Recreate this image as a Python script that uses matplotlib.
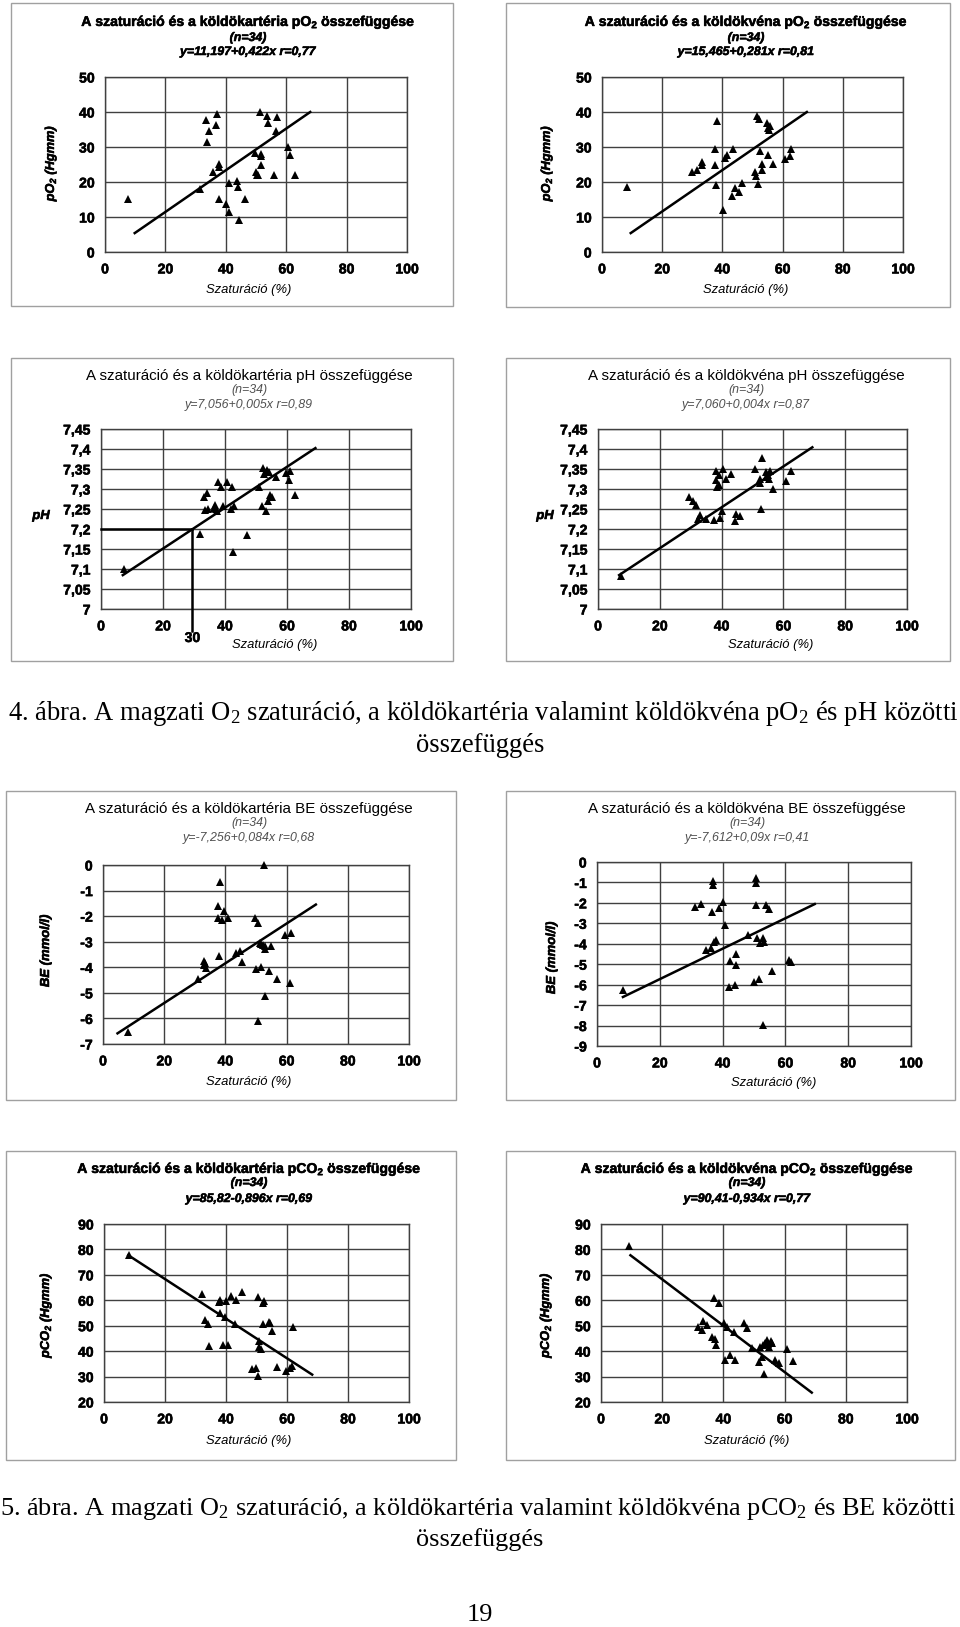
import matplotlib
matplotlib.use('Agg')
import matplotlib.pyplot as plt
import matplotlib.font_manager as fm
import matplotlib.patheffects as pe
from matplotlib.patches import Rectangle

W, H = 960, 1627
SANS = ['Liberation Sans', 'DejaVu Sans']
SERIF = ['Liberation Serif', 'DejaVu Serif']
plt.rcParams['font.family'] = SANS


def has_bold(name):
    for f in fm.fontManager.ttflist:
        if f.name == name:
            w = f.weight
            if isinstance(w, str):
                w = fm.weight_dict.get(w, 400)
            if w >= 600:
                return True
    return False


# a szkennelt eredeti félkövér szövegei vastagabbak: enyhe körvonal
stroke_w = 0.4 if has_bold('Liberation Sans') else 0.9
BOLD_FX = [pe.withStroke(linewidth=stroke_w, foreground='black')]

# --- adatok (leolvasva az ábráról) ---
x_ticks = [0, 20, 40, 60, 80, 100]
x_ticklabels = ['0', '20', '40', '60', '80', '100']

# köldökartéria pO2
art_po2_x = [7.5, 31.3, 33.4, 33.7, 34.4, 35.9, 36.6, 37.1, 37.6, 37.6, 37.9, 40.0, 41.0, 41.0, 43.6, 44.2, 44.3,
             46.2, 49.6, 50.1, 50.4, 50.8, 51.2, 51.5, 51.7, 51.7, 53.7, 54.1, 56.1, 56.5, 57.0, 60.7, 61.3, 62.8]
art_po2_y = [15.1, 18.1, 37.6, 31.4, 34.7, 22.9, 36.2, 39.5, 25.1, 24.3, 15.2, 13.7, 19.8, 11.4, 20.4, 18.5, 9.2,
             15.1, 28.3, 23.0, 22.1, 22.1, 39.9, 28.1, 27.3, 24.9, 38.9, 36.9, 22.1, 34.5, 38.5, 29.9, 27.6, 22.1]
art_po2_fit_x = [9.5, 68.3]
art_po2_fit_y = [5.2, 40.2]

# köldökvéna pO2
ven_po2_x = [8.4, 29.9, 31.7, 33.1, 33.2, 37.7, 37.7, 37.8, 38.3, 40.1, 40.8, 41.6, 43.1, 43.5, 44.1, 45.5, 46.4,
             50.9, 51.1, 51.5, 51.8, 52.2, 52.4, 53.3, 53.3, 54.9, 55.1, 55.2, 55.7, 56.9, 60.7, 62.3, 62.8, 55.4]
ven_po2_y = [18.5, 22.8, 23.5, 25.0, 25.7, 29.5, 24.8, 19.2, 37.5, 11.9, 27.0, 27.6, 15.9, 29.5, 18.3, 17.1, 19.6,
             22.9, 21.6, 39.0, 19.5, 38.1, 29.0, 23.5, 25.2, 36.9, 27.6, 35.4, 36.1, 25.1, 26.6, 27.3, 29.5, 35.0]
ven_po2_fit_x = [9.2, 68.4]
ven_po2_fit_y = [5.2, 40.2]

po2_ticks = [0, 10, 20, 30, 40, 50]
po2_ticklabels = ['0', '10', '20', '30', '40', '50']

# köldökartéria pH
art_ph_x = [7.3, 31.8, 33.2, 33.4, 34.3, 34.6, 36.9, 37.2, 37.5, 37.9, 38.8, 39.5, 40.7, 41.8, 42.1, 42.5, 42.9,
            47.1, 51.0, 52.0, 52.3, 52.6, 53.1, 53.4, 53.9, 54.2, 54.4, 55.3, 56.6, 59.6, 60.7, 60.9, 62.6, 36.6]
art_ph_y = [7.100, 7.188, 7.280, 7.248, 7.290, 7.250, 7.259, 7.250, 7.244, 7.317, 7.306, 7.258, 7.317, 7.250,
            7.304, 7.142, 7.258, 7.184, 7.304, 7.258, 7.352, 7.337, 7.245, 7.348, 7.269, 7.342, 7.285, 7.281,
            7.329, 7.339, 7.323, 7.345, 7.285, 7.253]
art_ph_fit_x = [6.7, 69.5]
art_ph_fit_y = [7.083, 7.404]
ph_cut_x = 29.5
ph_cut_y = 7.2
ph_cut_label = '30'

# köldökvéna pH
ven_ph_x = [7.6, 29.3, 30.8, 31.6, 32.5, 33.0, 35.1, 37.7, 38.2, 38.2, 38.4, 39.0, 39.2, 39.5, 40.1, 40.5, 41.5,
            43.2, 44.2, 44.7, 46.1, 50.8, 52.3, 52.5, 52.9, 53.2, 54.3, 54.9, 55.2, 55.7, 56.7, 60.7, 62.5, 54.5]
ven_ph_y = [7.083, 7.281, 7.269, 7.259, 7.225, 7.235, 7.225, 7.223, 7.345, 7.323, 7.304, 7.310, 7.334, 7.227,
            7.246, 7.350, 7.324, 7.337, 7.221, 7.237, 7.233, 7.350, 7.325, 7.316, 7.250, 7.377, 7.329, 7.335,
            7.325, 7.345, 7.300, 7.321, 7.345, 7.342]
ven_ph_fit_x = [6.5, 69.7]
ven_ph_fit_y = [7.083, 7.406]

ph_ticks = [7.0, 7.05, 7.1, 7.15, 7.2, 7.25, 7.3, 7.35, 7.4, 7.45]
ph_ticklabels = ['7', '7,05', '7,1', '7,15', '7,2', '7,25', '7,3', '7,35', '7,4', '7,45']

# köldökartéria BE
art_be_x = [8.2, 30.9, 33.0, 33.1, 33.8, 37.6, 37.7, 37.9, 38.1, 39.0, 39.5, 40.8, 43.4, 44.7, 45.3, 49.6, 50.1,
            50.7, 50.7, 51.2, 51.6, 52.3, 52.5, 52.8, 52.9, 53.1, 54.1, 54.8, 57.0, 59.6, 61.0, 61.5, 51.7, 33.2]
art_be_y = [-6.52, -4.45, -3.77, -3.93, -4.03, -2.07, -1.61, -3.57, -0.67, -2.16, -1.78, -2.07, -3.44, -3.38,
            -3.80, -2.07, -4.07, -2.26, -6.09, -3.05, -3.97, -3.12, 0.0, -5.14, -3.29, -3.18, -4.16, -3.15,
            -4.45, -2.75, -4.62, -2.66, -3.10, -3.83]
art_be_fit_x = [4.4, 69.9]
art_be_fit_y = [-6.61, -1.52]
art_be_ticks = [0, -1, -2, -3, -4, -5, -6, -7]
art_be_ticklabels = ['0', '-1', '-2', '-3', '-4', '-5', '-6', '-7']

# köldökvéna BE
ven_be_x = [8.2, 31.2, 33.0, 34.6, 36.4, 36.6, 37.1, 37.1, 37.2, 37.9, 38.7, 40.0, 40.9, 42.1, 42.4, 43.8, 44.2,
            44.3, 48.2, 50.1, 50.5, 50.6, 50.6, 50.8, 51.7, 52.0, 52.8, 52.8, 53.2, 53.8, 54.9, 55.7, 61.3, 61.9]
ven_be_y = [-6.28, -2.21, -2.05, -4.32, -4.21, -2.44, -0.93, -1.13, -3.91, -3.83, -2.24, -1.96, -3.06, -6.12,
            -4.83, -6.00, -4.50, -5.02, -3.55, -5.89, -0.77, -1.01, -2.08, -3.72, -5.71, -3.96, -3.72, -7.97,
            -3.93, -2.08, -2.29, -5.32, -4.78, -4.89]
ven_be_fit_x = [7.9, 69.7]
ven_be_fit_y = [-6.63, -2.03]
ven_be_ticks = [0, -1, -2, -3, -4, -5, -6, -7, -8, -9]
ven_be_ticklabels = ['0', '-1', '-2', '-3', '-4', '-5', '-6', '-7', '-8', '-9']

# köldökartéria pCO2
art_pco2_x = [8.3, 32.2, 33.0, 34.0, 34.4, 37.8, 38.0, 38.0, 39.1, 39.7, 40.0, 40.7, 41.8, 42.9, 43.2, 45.1, 48.4,
              49.7, 50.5, 50.5, 50.9, 50.9, 51.4, 52.0, 52.5, 52.2, 54.1, 54.4, 55.1, 56.6, 59.6, 60.9, 61.5, 62.0]
art_pco2_y = [78.0, 62.3, 52.2, 50.5, 42.2, 59.4, 60.0, 55.1, 42.6, 53.4, 59.9, 42.6, 61.6, 50.5, 60.0, 63.3, 32.8,
              33.2, 61.2, 30.1, 43.9, 41.6, 40.9, 59.0, 59.9, 50.5, 51.5, 50.9, 48.1, 33.7, 32.2, 33.5, 34.1, 49.4]
art_pco2_fit_x = [7.6, 68.6]
art_pco2_fit_y = [78.0, 30.5]

# köldökvéna pCO2
ven_pco2_x = [9.0, 31.6, 32.9, 33.2, 34.5, 36.4, 36.8, 37.4, 37.6, 38.5, 40.3, 40.6, 41.1, 42.3, 43.4, 43.9, 46.6,
              47.7, 49.3, 51.7, 52.1, 52.8, 53.2, 53.6, 54.2, 55.0, 55.6, 55.9, 57.0, 58.3, 60.8, 62.9, 52.6, 54.7]
ven_pco2_y = [81.2, 49.6, 48.5, 51.8, 50.2, 45.6, 61.0, 44.6, 42.4, 59.0, 50.9, 36.7, 49.6, 38.4, 47.5, 36.5, 50.9,
              49.2, 41.1, 35.8, 41.6, 42.4, 31.1, 43.3, 44.2, 41.6, 43.9, 43.3, 36.7, 35.4, 40.7, 36.1, 37.7, 42.7]
ven_pco2_fit_x = [9.3, 69.2]
ven_pco2_fit_y = [78.0, 23.4]

pco2_ticks = [20, 30, 40, 50, 60, 70, 80, 90]
pco2_ticklabels = ['20', '30', '40', '50', '60', '70', '80', '90']

SUB2 = r'$\mathregular{_2}$'

panels = [
    dict(ax=(105, 77, 407, 252), frame=(11, 3, 453, 306), tx=248, ty=(22, 38, 52),
         x=art_po2_x, y=art_po2_y, fx=art_po2_fit_x, fy=art_po2_fit_y,
         yt=po2_ticks, ytl=po2_ticklabels,
         title='A szaturáció és a köldökartéria pO' + SUB2 + ' összefüggése', eq='y=11,197+0,422x r=0,77',
         ylab='pO' + SUB2 + ' (Hgmm)', ylpos=(51, 163), rot=90, xlpos=(249, 290), strong=True),
    dict(ax=(602, 77, 903, 252), frame=(506, 3, 950, 307), tx=746, ty=(22, 38, 52),
         x=ven_po2_x, y=ven_po2_y, fx=ven_po2_fit_x, fy=ven_po2_fit_y,
         yt=po2_ticks, ytl=po2_ticklabels,
         title='A szaturáció és a köldökvéna pO' + SUB2 + ' összefüggése', eq='y=15,465+0,281x r=0,81',
         ylab='pO' + SUB2 + ' (Hgmm)', ylpos=(547, 163), rot=90, xlpos=(746, 290), strong=True),
    dict(ax=(101, 429, 411, 609), frame=(11, 358, 453, 661), tx=249, ty=(376, 390, 405),
         x=art_ph_x, y=art_ph_y, fx=art_ph_fit_x, fy=art_ph_fit_y,
         yt=ph_ticks, ytl=ph_ticklabels,
         title='A szaturáció és a köldökartéria pH összefüggése', eq='y=7,056+0,005x r=0,89',
         ylab='pH', ylpos=(41, 516), rot=0, xlpos=(275, 645), strong=False, cut=True),
    dict(ax=(598, 429, 907, 609), frame=(506, 358, 950, 661), tx=746, ty=(376, 390, 405),
         x=ven_ph_x, y=ven_ph_y, fx=ven_ph_fit_x, fy=ven_ph_fit_y,
         yt=ph_ticks, ytl=ph_ticklabels,
         title='A szaturáció és a köldökvéna pH összefüggése', eq='y=7,060+0,004x r=0,87',
         ylab='pH', ylpos=(545, 516), rot=0, xlpos=(771, 645), strong=False),
    dict(ax=(103, 865, 409, 1044), frame=(6, 791, 456, 1100), tx=249, ty=(809, 823, 838),
         x=art_be_x, y=art_be_y, fx=art_be_fit_x, fy=art_be_fit_y,
         yt=art_be_ticks, ytl=art_be_ticklabels,
         title='A szaturáció és a köldökartéria BE összefüggése', eq='y=-7,256+0,084x r=0,68',
         ylab='BE (mmol/l)', ylpos=(46, 951), rot=90, xlpos=(249, 1082), strong=False),
    dict(ax=(597, 862, 911, 1046), frame=(506, 791, 955, 1100), tx=747, ty=(809, 823, 838),
         x=ven_be_x, y=ven_be_y, fx=ven_be_fit_x, fy=ven_be_fit_y,
         yt=ven_be_ticks, ytl=ven_be_ticklabels,
         title='A szaturáció és a köldökvéna BE összefüggése', eq='y=-7,612+0,09x r=0,41',
         ylab='BE (mmol/l)', ylpos=(552, 958), rot=90, xlpos=(774, 1083), strong=False),
    dict(ax=(104, 1224, 409, 1402), frame=(6, 1151, 456, 1460), tx=249, ty=(1169, 1183, 1199),
         x=art_pco2_x, y=art_pco2_y, fx=art_pco2_fit_x, fy=art_pco2_fit_y,
         yt=pco2_ticks, ytl=pco2_ticklabels,
         title='A szaturáció és a köldökartéria pCO' + SUB2 + ' összefüggése', eq='y=85,82-0,896x r=0,69',
         ylab='pCO' + SUB2 + ' (Hgmm)', ylpos=(46, 1315), rot=90, xlpos=(249, 1441), strong=True),
    dict(ax=(601, 1224, 907, 1402), frame=(506, 1151, 955, 1460), tx=747, ty=(1169, 1183, 1199),
         x=ven_pco2_x, y=ven_pco2_y, fx=ven_pco2_fit_x, fy=ven_pco2_fit_y,
         yt=pco2_ticks, ytl=pco2_ticklabels,
         title='A szaturáció és a köldökvéna pCO' + SUB2 + ' összefüggése', eq='y=90,41-0,934x r=0,77',
         ylab='pCO' + SUB2 + ' (Hgmm)', ylpos=(546, 1315), rot=90, xlpos=(747, 1441), strong=True),
]

fig = plt.figure(figsize=(W / 100, H / 100), dpi=100)
fig.patch.set_facecolor('white')


def ptext(x, y, s, **kw):
    # szöveg pixel koordinátákban (bal felső sarokból)
    return fig.text(x / W, 1 - y / H, s, **kw)


GRID = '#404040'
TICK_FS = 10.1
BOLD = dict(fontweight='bold', path_effects=BOLD_FX)

for p in panels:
    l, t, r, b = p['frame']
    fig.add_artist(Rectangle((l / W, 1 - b / H), (r - l) / W, (b - t) / H, transform=fig.transFigure,
                             fill=False, ec='#a0a0a0', lw=1.0))

    l, t, r, b = p['ax']
    ax = fig.add_axes([l / W, 1 - b / H, (r - l) / W, (b - t) / H])
    ax.set_xlim(0, 100)
    ax.set_ylim(min(p['yt']), max(p['yt']))
    ax.set_xticks(x_ticks)
    ax.set_xticklabels(x_ticklabels, fontsize=TICK_FS, **BOLD)
    ax.set_yticks(p['yt'])
    ax.set_yticklabels(p['ytl'], fontsize=TICK_FS, **BOLD)
    ax.tick_params(axis='both', length=0)
    ax.tick_params(axis='x', pad=7.5)
    ax.tick_params(axis='y', pad=7.5)
    ax.grid(True, color=GRID, lw=1.0)
    ax.set_axisbelow(True)
    for sp in ax.spines.values():
        sp.set_color(GRID)
        sp.set_linewidth(1.0)

    ax.plot(p['fx'], p['fy'], '-', color='black', lw=1.8, solid_capstyle='butt', zorder=3)
    ax.plot(p['x'], p['y'], '^', color='black', ms=6, mew=0, clip_on=False, zorder=4)

    if p.get('cut'):
        ax.plot([0, ph_cut_x], [ph_cut_y, ph_cut_y], color='black', lw=1.8, clip_on=False, zorder=3)
        ax.plot([ph_cut_x, ph_cut_x], [ph_cut_y, 6.945], color='black', lw=1.8, clip_on=False, zorder=3)
        ax.text(ph_cut_x, 6.9275, ph_cut_label, ha='center', va='center', fontsize=TICK_FS, **BOLD)

    tx = p['tx']
    ty1, ty2, ty3 = p['ty']
    if p['strong']:
        ptext(tx, ty1, p['title'], ha='center', va='center', fontsize=10.1, **BOLD)
        ptext(tx, ty2, '(n=34)', ha='center', va='center', fontsize=8.9, style='italic', **BOLD)
        ptext(tx, ty3, p['eq'], ha='center', va='center', fontsize=8.9, style='italic', **BOLD)
        ptext(*p['ylpos'], p['ylab'], ha='center', va='center', rotation=p['rot'], fontsize=9.2,
              style='italic', **BOLD)
    else:
        ptext(tx, ty1, p['title'], ha='center', va='center', fontsize=10.9)
        ptext(tx, ty2, '(n=34)', ha='center', va='center', fontsize=8.9, style='italic', color='#505050')
        ptext(tx, ty3, p['eq'], ha='center', va='center', fontsize=8.9, style='italic', color='#505050')
        ptext(*p['ylpos'], p['ylab'], ha='center', va='center', rotation=p['rot'], fontsize=9.4,
              style='italic', **BOLD)
    ptext(*p['xlpos'], 'Szaturáció (%)', ha='center', va='center', fontsize=9.4, style='italic')

# --- képaláírások ---
renderer = fig.canvas.get_renderer()


def fit_line(s, x0, x1, y):
    txt = ptext((x0 + x1) / 2, y, s, ha='center', va='baseline', fontsize=19, family=SERIF)
    w = txt.get_window_extent(renderer).width
    txt.set_fontsize(19 * (x1 - x0) / w)
    return txt.get_fontsize()


caption4 = '4. ábra. A magzati O' + SUB2 + ' szaturáció, a köldökartéria valamint köldökvéna pO' + SUB2 + \
           ' és pH közötti'
caption5 = '5. ábra. A magzati O' + SUB2 + ' szaturáció, a köldökartéria valamint köldökvéna pCO' + SUB2 + \
           ' és BE közötti'
fs4 = fit_line(caption4, 8, 958, 720)
ptext(480, 752, 'összefüggés', ha='center', va='baseline', fontsize=fs4, family=SERIF)
fs5 = fit_line(caption5, 1, 956, 1515)
ptext(480, 1546, 'összefüggés', ha='center', va='baseline', fontsize=fs5, family=SERIF)
ptext(480, 1621, '19', ha='center', va='baseline', fontsize=fs5, family=SERIF)

fig.savefig('out.png', dpi=100, facecolor='white')
